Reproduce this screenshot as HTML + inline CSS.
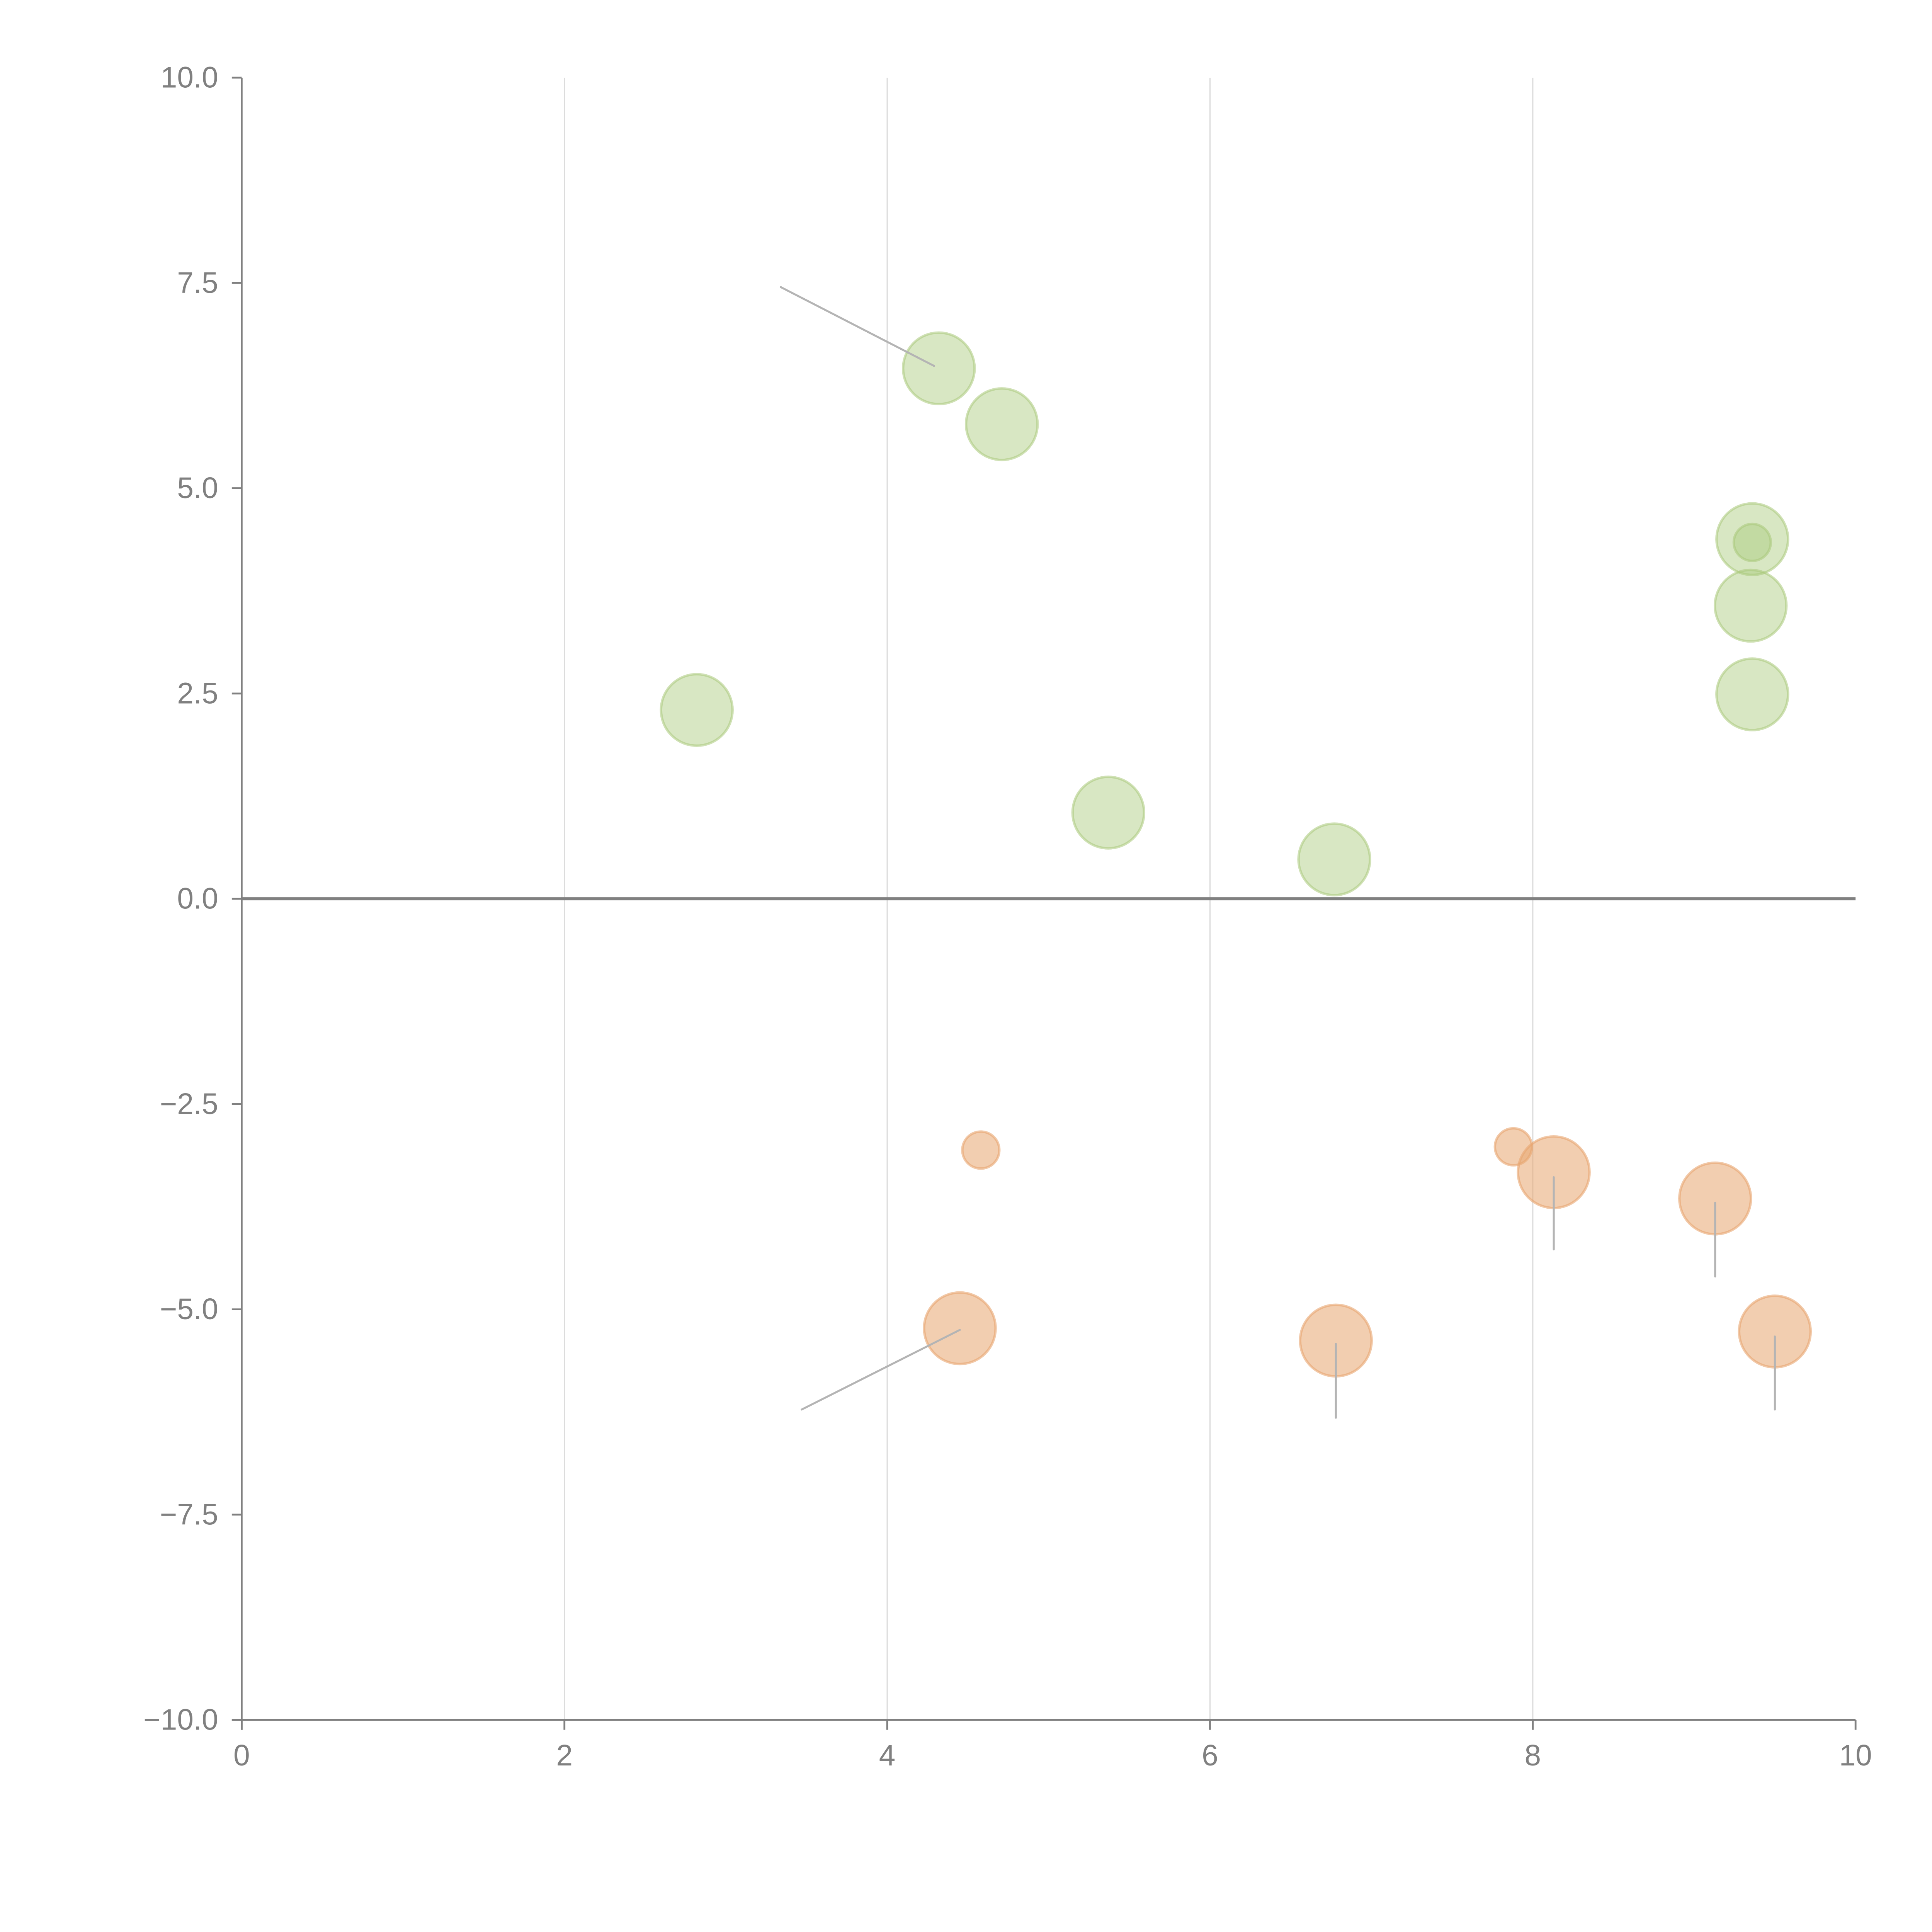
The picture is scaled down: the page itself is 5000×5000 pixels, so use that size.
<!DOCTYPE html>
<html><head><meta charset="utf-8"><style>
html,body{margin:0;padding:0;background:#fff;width:5000px;height:5000px;overflow:hidden}
svg{display:block}
text{font-family:"Liberation Sans",sans-serif;fill:#808080;font-size:24px}
</style></head><body>
<svg id="chart" width="5000" height="5000" viewBox="0 0 1567 1567" xmlns="http://www.w3.org/2000/svg">
<g id="grid"></g>
<g id="axes"></g>
<g id="marks"></g>
<g id="leaders"></g>
</svg>
<script>
const greenX=[4.32,4.71,2.82,5.37,6.77,9.36,9.35,9.36];
const greenY=[6.46,5.78,2.30,1.05,0.48,4.38,3.57,2.49];
const greenR=[29,29,29,29,29,29,29,29];
const smallX=[9.36];
const smallY=[4.34];
const smallR=[15];
const orangeX=[4.58,7.88,8.13,9.13,4.45,6.78,9.50];
const orangeY=[-3.06,-3.02,-3.33,-3.65,-5.23,-5.38,-5.27];
const orangeR=[15,15,29,29,29,29,29];
const leadFromX=[4.29,4.45,6.78,9.50,8.13,9.13];
const leadFromY=[6.49,-5.25,-5.42,-5.33,-3.39,-3.70];
const leadToX=[3.34,3.47,6.78,9.50,8.13,9.13];
const leadToY=[7.45,-6.22,-6.32,-6.22,-4.27,-4.60];
const xTicks=[0,2,4,6,8,10];
const yTicks=[10,7.5,5,2.5,0,-2.5,-5,-7.5,-10];
const yTickLabels=["10.0","7.5","5.0","2.5","0.0","\u22122.5","\u22125.0","\u22127.5","\u221210.0"];

const NS="http://www.w3.org/2000/svg";
const X0=196,X1=1505,Y0=63,Y1=1395;
const sx=v=>X0+(v-0)/10*(X1-X0);
const sy=v=>Y0+(10-v)/20*(Y1-Y0);
function mk(tag,attrs,parent){const e=document.createElementNS(NS,tag);for(const k in attrs)e.setAttribute(k,attrs[k]);parent.appendChild(e);return e;}
const grid=document.getElementById('grid'),axes=document.getElementById('axes'),leaders=document.getElementById('leaders'),marks=document.getElementById('marks');

xTicks.forEach(t=>{
  if(t>0&&t<10){const g=mk('line',{x1:sx(t),x2:sx(t),y1:Y0,y2:Y1,stroke:'#dcdcdc','stroke-width':1},grid);
  
  }
  const tk=mk('line',{x1:sx(t),x2:sx(t),y1:Y1,y2:Y1+8,stroke:'#808080','stroke-width':1.5},axes);
  
  
  const lb=mk('text',{x:sx(t),y:Y1+37,'text-anchor':'middle'},axes);lb.textContent=t;
  
  
});
yTicks.forEach((t,i)=>{
  const tk=mk('line',{x1:X0-8,x2:X0,y1:sy(t),y2:sy(t),stroke:'#808080','stroke-width':1.5},axes);
  
  
  const lb=mk('text',{x:X0-19,y:sy(t)+8,'text-anchor':'end'},axes);lb.textContent=yTickLabels[i];
  
  
});
const ya=mk('line',{x1:X0,x2:X0,y1:Y0,y2:Y1+8,stroke:'#808080','stroke-width':1.5},axes);


const xa=mk('line',{x1:X0-8,x2:X1,y1:Y1,y2:Y1,stroke:'#808080','stroke-width':1.5},axes);


const zl=mk('line',{x1:X0,x2:X1,y1:sy(0),y2:sy(0),stroke:'#808080','stroke-width':2.5},axes);



greenX.forEach((v,i)=>{
  const c=mk('circle',{cx:sx(v),cy:sy(greenY[i]),r:greenR[i],fill:'#a9c97a','fill-opacity':0.45,stroke:'#a9c97a','stroke-opacity':0.55,'stroke-width':2},marks);
  
  
});
smallX.forEach((v,i)=>{
  const c=mk('circle',{cx:sx(v),cy:sy(smallY[i]),r:smallR[i],fill:'#a9c97a','fill-opacity':0.45,stroke:'#a9c97a','stroke-opacity':0.55,'stroke-width':2},marks);
  
  
});
orangeX.forEach((v,i)=>{
  const c=mk('circle',{cx:sx(v),cy:sy(orangeY[i]),r:orangeR[i],fill:'#e8a570','fill-opacity':0.55,stroke:'#e8a570','stroke-opacity':0.6,'stroke-width':2},marks);
  
  
});
leadFromX.forEach((v,i)=>{
  const l=mk('line',{x1:sx(v),y1:sy(leadFromY[i]),x2:sx(leadToX[i]),y2:sy(leadToY[i]),stroke:'#b4b4b4','stroke-width':1.6,'stroke-linecap':'round'},leaders);
  
  
});
</script>
</body></html>
